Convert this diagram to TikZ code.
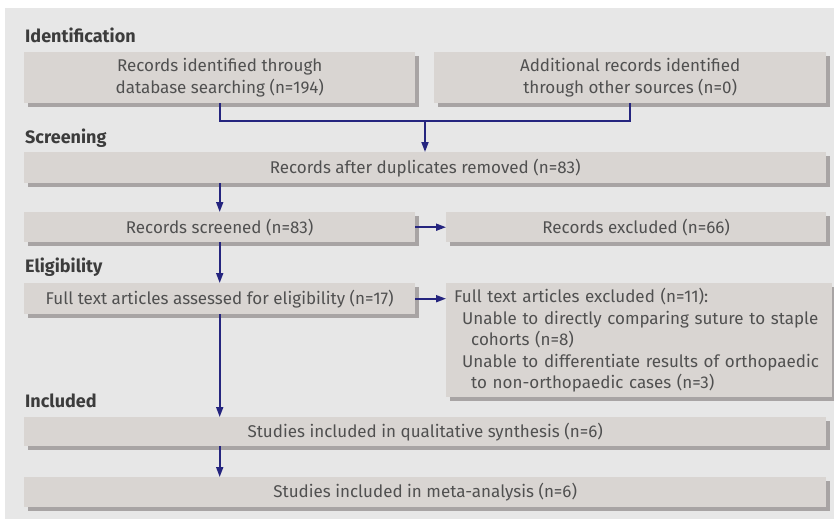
\documentclass[tikz,border=0pt]{standalone}
\usepackage{fontspec}
\setmainfont{Fira Sans}
\usetikzlibrary{shadows,arrows.meta}
\definecolor{bgc}{HTML}{E7E7E7}
\definecolor{boxc}{HTML}{D9D5D2}
\definecolor{shc}{HTML}{A8A4A4}
\definecolor{txc}{HTML}{505050}
\definecolor{hdc}{HTML}{3C3C3C}
\definecolor{arc}{HTML}{25257F}
\begin{document}
\begin{tikzpicture}[x=1pt,y=-1pt,
  box/.style={anchor=north west, fill=boxc, inner sep=0pt, align=center, text=txc,
    font=\fontsize{17}{21.5}\selectfont,
    drop shadow={shadow xshift=3.5pt, shadow yshift=-3.5pt, fill=shc, opacity=1}},
  hd/.style={anchor=base west, inner sep=0pt, text=hdc, font=\fontsize{18}{20}\selectfont\bfseries},
  conn/.style={draw=arc, line width=1.8pt},
  arr/.style={conn, -{Triangle[length=10pt,width=7pt]}}]
\useasboundingbox (0,0) rectangle (834,519);
\fill[white] (0,0) rectangle (834,519);
\fill[bgc] (5,8) rectangle (834,519);
% headings
\node[hd] (h1) at (25,42) {Identification};
\node[hd] (h2) at (25,143) {Screening};
\node[hd] (h3) at (25,272) {Eligibility};
\node[hd] (h4) at (25,407) {Included};
% boxes
\node[box, minimum width=391pt, minimum height=51pt] (b1) at (24,52) {Records identified through\\database searching (n=194)};
\node[box, minimum width=392pt, minimum height=51pt] (b2) at (434,52) {Additional records identified\\through other sources (n=0)};
\node[box, minimum width=802pt, minimum height=31pt] (b3) at (24,152) {Records after duplicates removed (n=83)};
\node[box, minimum width=391pt, minimum height=30pt] (b4) at (24,212) {Records screened (n=83)};
\node[box, minimum width=380pt, minimum height=30pt] (b5) at (446,212) {Records excluded (n=66)};
\node[box, minimum width=391pt, minimum height=31pt] (b6) at (24,283) {Full text articles assessed for eligibility (n=17)};
\node[box, minimum width=380pt, minimum height=114pt, text width=370pt, align=left, inner xsep=8pt] (b7) at (446,283)
  {Full text articles excluded (n=11):\\
   \hspace*{8pt}Unable to directly comparing suture to staple\\
   \hspace*{17pt}cohorts (n=8)\\
   \hspace*{8pt}Unable to differentiate results of orthopaedic\\
   \hspace*{17pt}to non-orthopaedic cases (n=3)};
\node[box, minimum width=802pt, minimum height=29pt] (b8) at (24,417) {Studies included in qualitative synthesis (n=6)};
\node[box, minimum width=802pt, minimum height=30pt] (b9) at (24,477) {Studies included in meta-analysis (n=6)};
% connectors
\coordinate (j) at (425,121);
\draw[conn] (b1.south) |- (j) -| (b2.south);
\draw[arr] (j) -- (j |- b3.north);
\draw[arr] (b4.north |- b3.south) -- (b4.north);
\draw[arr] (b4.east) -- (b5.west);
\draw[arr] (b4.south) -- (b6.north);
\draw[arr] (b6.east) -- (b7.west |- b6.east);
\draw[arr] (b6.south) -- (b6.south |- b8.north);
\draw[arr] (b6.south |- b8.south) -- (b6.south |- b9.north);
\end{tikzpicture}
\end{document}
